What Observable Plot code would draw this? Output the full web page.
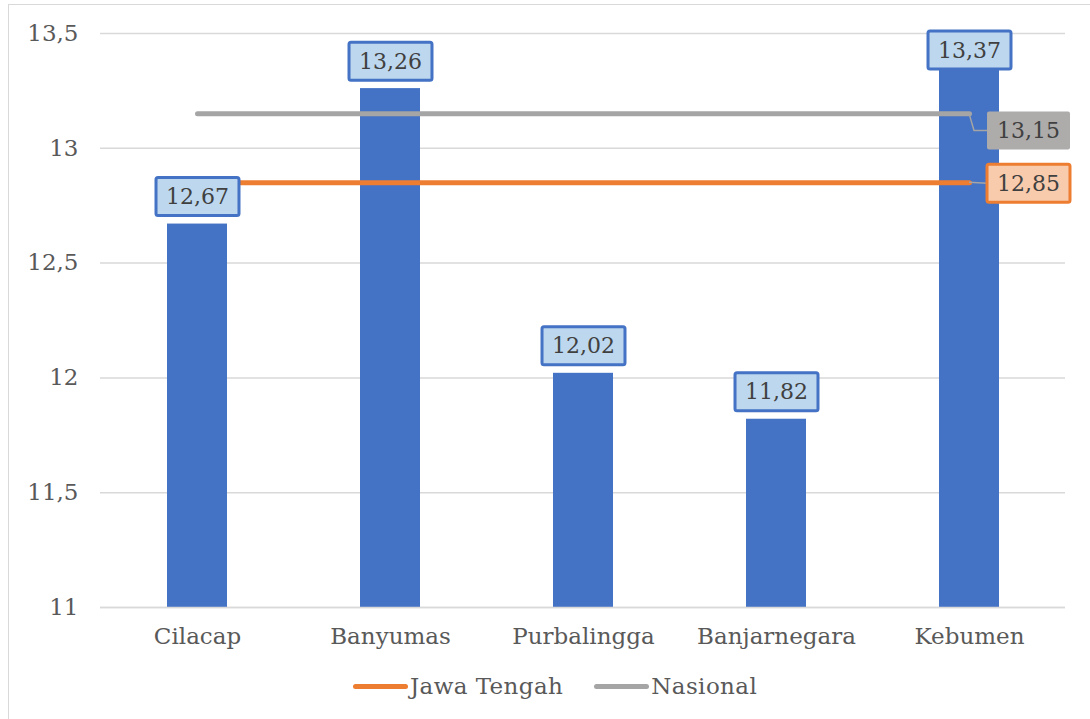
<!DOCTYPE html>
<html>
<head>
<meta charset="utf-8">
<script src="https://cdn.jsdelivr.net/npm/d3@7"></script>
<script src="https://cdn.jsdelivr.net/npm/@observablehq/plot@0.6"></script>
<style>
  html, body { margin: 0; padding: 0; background: #fff; }
  body { width: 1090px; height: 719px; position: relative; overflow: hidden; font-family: "DejaVu Serif", serif; }
  #frame { position: absolute; left: 8px; top: 4px; width: 1100px; height: 730px; border: 1.5px solid #D9D9D9; box-sizing: border-box; }
  #chart { position: absolute; left: 0; top: 0; }
  #legend { position: absolute; left: 353px; top: 673px; display: flex; align-items: center; font-size: 23px; letter-spacing: 0.4px; color: #595959; }
  .sw { display: inline-block; width: 55px; height: 5px; border-radius: 3px; margin-right: 2px; }
  .item { display: flex; align-items: center; margin-right: 31px; }
</style>
</head>
<body>
<div id="frame"></div>
<div id="chart"></div>
<div id="legend"></div>
<script>
const categories = ["Cilacap", "Banyumas", "Purbalingga", "Banjarnegara", "Kebumen"];
const values = [12.67, 13.26, 12.02, 11.82, 13.37];
const jatengValue = 12.85;
const nasionalValue = 13.15;
const yTicks = [11, 11.5, 12, 12.5, 13, 13.5];
const seriesNames = ["Jawa Tengah", "Nasional"];
const seriesColors = ["#ED7D31", "#A5A5A5"];

const fmt = v => String(v).replace(".", ",");
const bars = categories.map((c, i) => ({cat: c, v: values[i]}));
const first = categories[0], last = categories[categories.length - 1];
const jateng = [{cat: first, v: jatengValue}, {cat: last, v: jatengValue}];
const nasional = [{cat: first, v: nasionalValue}, {cat: last, v: nasionalValue}];

const chart = Plot.plot({
  width: 1090,
  height: 650,
  marginTop: 33,
  marginBottom: 43,
  marginLeft: 100,
  marginRight: 25,
  style: {fontFamily: "DejaVu Serif, serif", fontSize: "23px", color: "#595959", background: "transparent"},
  x: {domain: categories, paddingInner: 0.69, paddingOuter: 0.345, label: null, tickSize: 0, tickPadding: 20},
  y: {domain: [11, 13.5], ticks: yTicks, tickFormat: fmt, label: null, tickSize: 0, tickPadding: 22},
  marks: [
    Plot.gridY(yTicks, {stroke: "#D9D9D9", strokeOpacity: 1, strokeWidth: 1.5}),
    Plot.barY(bars, {x: "cat", y1: 11, y2: "v", fill: "#4472C4"}),
    Plot.ruleY([11], {stroke: "#D9D9D9", strokeWidth: 1.5}),
    Plot.line(nasional, {x: "cat", y: "v", stroke: seriesColors[1], strokeWidth: 5, strokeLinecap: "round"}),
    Plot.line(jateng, {x: "cat", y: "v", stroke: seriesColors[0], strokeWidth: 5, strokeLinecap: "round"}),
    Plot.text(bars, {x: "cat", y: "v", text: d => fmt(d.v), dy: -27, fontSize: 22, fill: "#404040", className: "vlabel"}),
    Plot.text([nasional[1]], {x: "cat", y: "v", text: d => fmt(d.v), dx: 59, dy: 17, fontSize: 22, fill: "#404040", className: "nlabel"}),
    Plot.text([jateng[1]], {x: "cat", y: "v", text: d => fmt(d.v), dx: 59, dy: 1, fontSize: 22, fill: "#404040", className: "jlabel"})
  ]
});
document.getElementById("chart").appendChild(chart);

const ns = "http://www.w3.org/2000/svg";
const yScale = chart.scale("y");
const xScale = chart.scale("x");
const topLimit = yScale.apply(13.5) - 2;
const svgCTM = chart.getScreenCTM();

function rootBox(t) {
  const bb = t.getBBox();
  const m = t.getScreenCTM();
  const ox = m.e - svgCTM.e, oy = m.f - svgCTM.f;
  return {x: bb.x + ox, y: bb.y + oy, w: bb.width, h: bb.height};
}

function boxify(cls, fill, stroke, clampTop) {
  const g = chart.querySelector("g." + cls);
  if (!g) return [];
  const layer = document.createElementNS(ns, "g");
  g.parentNode.insertBefore(layer, g);
  const out = [];
  g.querySelectorAll("text").forEach(t => {
    const b = rootBox(t);
    const h = 38, w = b.w + 20;
    let cy = b.y + b.h / 2;
    const cx = b.x + b.w / 2;
    if (clampTop && cy - h / 2 < topLimit) {
      const shift = topLimit - (cy - h / 2);
      cy += shift;
      const tr = t.getAttribute("transform") || "";
      t.setAttribute("transform", (tr + ` translate(0,${shift})`).trim());
    }
    const r = document.createElementNS(ns, "rect");
    r.setAttribute("x", cx - w / 2);
    r.setAttribute("y", cy - h / 2);
    r.setAttribute("width", w);
    r.setAttribute("height", h);
    r.setAttribute("rx", 2);
    r.setAttribute("fill", fill);
    if (stroke) { r.setAttribute("stroke", stroke); r.setAttribute("stroke-width", 3); }
    layer.appendChild(r);
    out.push({left: cx - w / 2, cy, layer});
  });
  return out;
}
boxify("vlabel", "#BDD7EE", "#4472C4", true);
const nb = boxify("nlabel", "#AEABAB", null, false);
const jb = boxify("jlabel", "#F8CBAD", "#ED7D31", false);

const xEnd = xScale.apply(last) + xScale.bandwidth / 2;
function leader(yVal, boxes) {
  if (!boxes.length) return;
  const b = boxes[0];
  const y0 = yScale.apply(yVal);
  const p = document.createElementNS(ns, "path");
  const bend = Math.abs(b.cy - y0) > 3 ? `L${xEnd + 5},${b.cy}` : "";
  p.setAttribute("d", `M${xEnd},${y0}${bend}L${b.left},${b.cy}`);
  p.setAttribute("fill", "none");
  p.setAttribute("stroke", "#A5A5A5");
  p.setAttribute("stroke-width", 1.5);
  b.layer.parentNode.insertBefore(p, b.layer);
}
leader(nasionalValue, nb);
leader(jatengValue, jb);

const leg = document.getElementById("legend");
seriesNames.forEach((n, i) => {
  const it = document.createElement("div");
  it.className = "item";
  const sw = document.createElement("span");
  sw.className = "sw";
  sw.style.background = seriesColors[i];
  const tx = document.createElement("span");
  tx.textContent = n;
  it.appendChild(sw); it.appendChild(tx);
  leg.appendChild(it);
});
</script>
</body>
</html>
